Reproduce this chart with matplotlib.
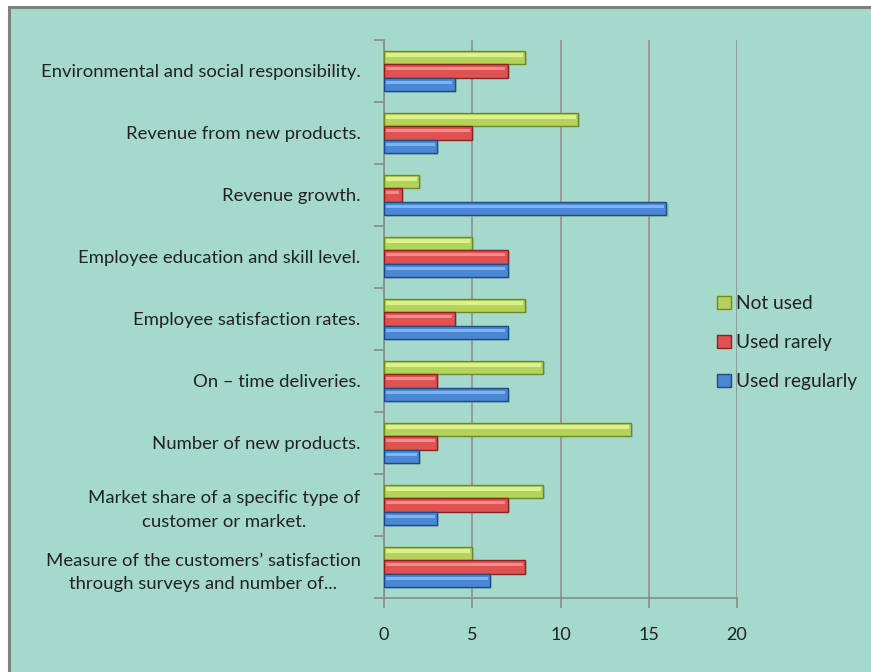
import matplotlib
matplotlib.use("Agg")
import matplotlib.pyplot as plt
from matplotlib.patches import Rectangle, Patch
import numpy as np

categories = [
    "Measure of the customers\u2019 satisfaction\nthrough surveys and number of...",
    "Market share of a specific type of\ncustomer or market.",
    "Number of new products.",
    "On \u2013 time deliveries.",
    "Employee satisfaction rates.",
    "Employee education and skill level.",
    "Revenue growth.",
    "Revenue from new products.",
    "Environmental and social responsibility.",
]
used_regularly = [6, 3, 2, 7, 7, 7, 16, 3, 4]
used_rarely = [8, 7, 3, 3, 4, 7, 1, 5, 7]
not_used = [5, 9, 14, 9, 8, 5, 2, 11, 8]
xticks = [0, 5, 10, 15, 20]

plt.rcParams['font.family'] = ['Lato', 'DejaVu Sans']

bg = '#a5d9cc'
fig = plt.figure(figsize=(8.71, 6.72), dpi=100)
fig.patch.set_facecolor('white')
fig.patches.append(Rectangle((9/871, -0.1), 1.2, 1.1 - 7/672, transform=fig.transFigure,
                             facecolor=bg, edgecolor='#808080', linewidth=2.2, zorder=-10))

ax = fig.add_axes([384/871, 1 - 598/672, (737 - 384)/871, (598 - 40)/672])
ax.set_facecolor('none')

y = np.arange(len(categories))
h = 0.21
off = 0.225
series = [
    (not_used, off, '#b3d35a', '#dcf08e', '#6d8a25', 'Not used'),
    (used_rarely, 0.0, '#de5252', '#f58a8a', '#8a2222', 'Used rarely'),
    (used_regularly, -off, '#4a88d6', '#7db4f2', '#1f4a86', 'Used regularly'),
]
handles = []
for vals, o, main, light, dark, name in series:
    ax.barh(y + o - 0.03, vals, height=h, left=0.12, color='#7fae9f', alpha=0.5, zorder=2)
    ax.barh(y + o, vals, height=h, color=main, edgecolor=dark, linewidth=1.0, zorder=3)
    ax.barh(y + o + h * 0.18, np.array(vals) - 0.25, height=h * 0.28, left=0.12,
            color=light, linewidth=0, zorder=4)
    handles.append(Patch(facecolor=main, edgecolor=dark, label=name))

ax.set_xlim(0, 20)
ax.set_ylim(-0.5, len(categories) - 0.5)
ax.set_xticks(xticks)
ax.set_xticklabels([str(t) for t in xticks], fontsize=13, color='#222222')
ax.set_yticks(y)
ax.set_yticklabels(categories, fontsize=13.3, color='#222222', multialignment='center',
                   linespacing=1.55)
ax.set_yticks(np.arange(len(categories) + 1) - 0.5, minor=True)
ax.tick_params(axis='y', which='major', length=0, pad=17)
ax.tick_params(axis='y', which='minor', length=7, color='#8c8c8c', width=1.2)
ax.tick_params(axis='x', length=7, color='#8c8c8c', width=1.2, pad=14)
ax.grid(axis='x', color='#8c8c8c', linewidth=1.1, zorder=0)
ax.set_axisbelow(True)
for s in ['top', 'right']:
    ax.spines[s].set_visible(False)
for s in ['left', 'bottom']:
    ax.spines[s].set_color('#8c8c8c')
    ax.spines[s].set_linewidth(1.2)

fig.legend(handles=handles, loc='upper left', bbox_to_anchor=(700/871, 1 - 278/672),
           frameon=False, fontsize=13.8, handlelength=0.7, handleheight=0.7,
           handletextpad=0.3, labelspacing=1.15, labelcolor='#222222')

fig.savefig('out.png', dpi=100, facecolor='white')
